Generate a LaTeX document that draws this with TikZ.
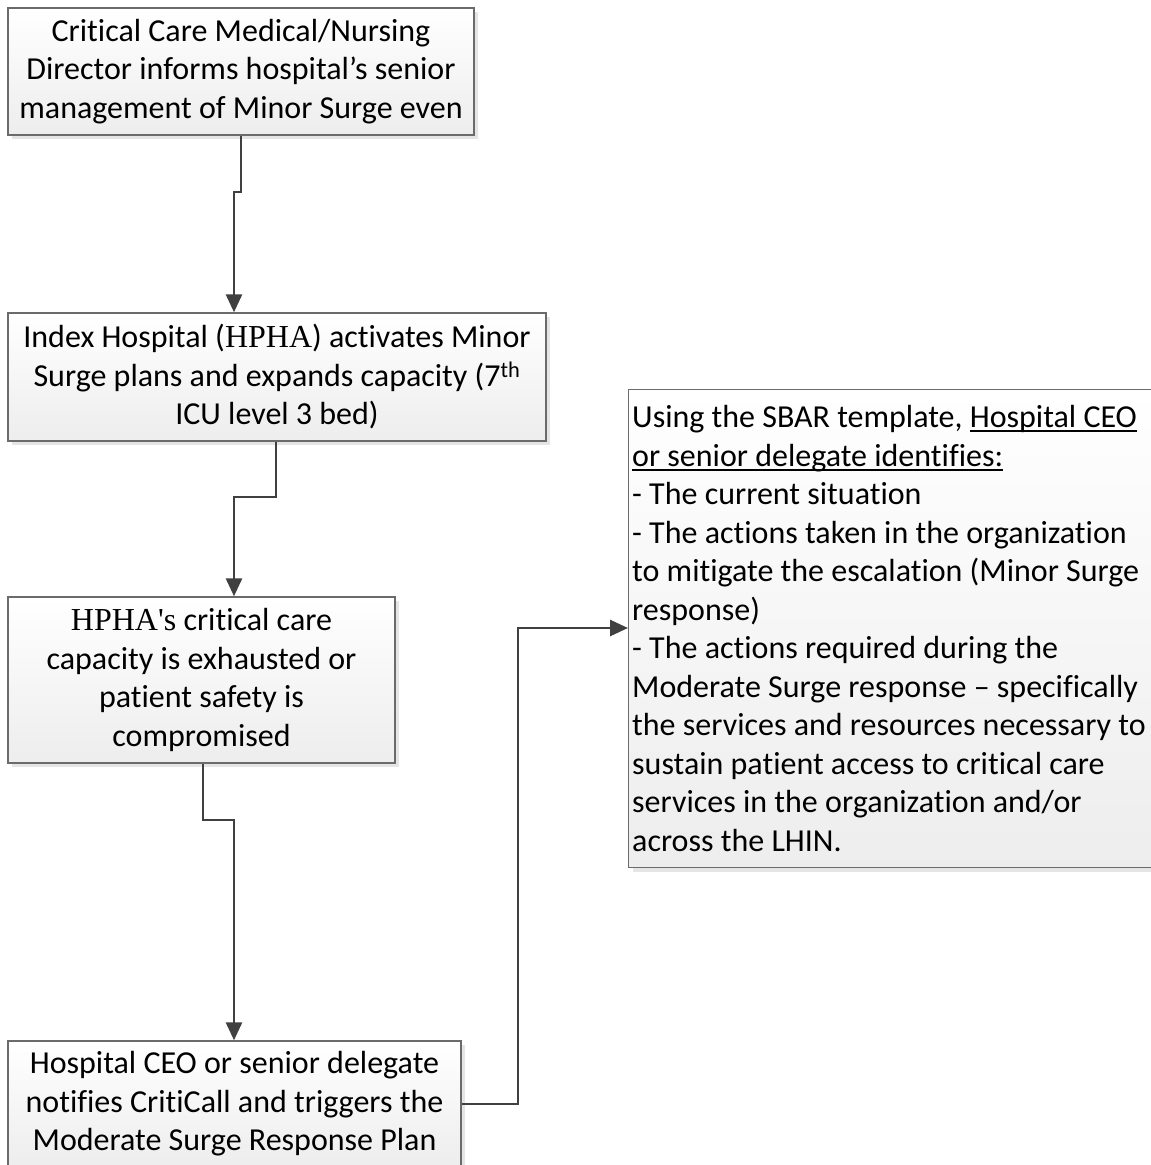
\documentclass[tikz,border=0pt]{standalone}
\usepackage{fontspec}
\setmainfont{Carlito}[Ligatures={NoCommon}]
\newfontfamily\serifhp{Liberation Serif}
\usetikzlibrary{arrows.meta,shadows}
\newcommand{\myul}[1]{\leavevmode\setbox0\hbox{#1}\rlap{\rule[-0.13em]{\wd0}{0.065em}}\box0}
\begin{document}
\begin{tikzpicture}[x=1pt,y=-1pt,
  flowbox/.style={draw=black!58, line width=1.4pt, top color=white, bottom color=black!7,
    drop shadow={shadow xshift=4pt, shadow yshift=-4pt, fill=black!10, opacity=1},
    inner sep=0pt, font=\fontsize{32}{38.5}\selectfont, align=center},
  conn/.style={draw=black!75, line width=2.8pt, -{Triangle[width=16pt,length=18pt]}},
  ]
\clip (0,0) rectangle (1151,1165);
\fill[white] (0,0) rectangle (1151,1165);
\node[flowbox, minimum width=466pt, minimum height=127pt] (b1) at (241,71.5)
  {Critical Care Medical/Nursing\\Director informs hospital’s senior\\management of Minor Surge even};
\node[flowbox, minimum width=538pt, minimum height=128pt] (b2) at (277,377)
  {Index Hospital ({\serifhp HPHA}) activates Minor\\Surge plans and expands capacity (7\textsuperscript{th}\\ICU level 3 bed)};
\node[flowbox, minimum width=387pt, minimum height=166pt] (b3) at (201.5,680)
  {{\serifhp HPHA's} critical care\\capacity is exhausted or\\patient safety is\\compromised};
\node[flowbox, minimum width=453pt, minimum height=126pt] (b4) at (234.5,1104)
  {Hospital CEO or senior delegate\\notifies CritiCall and triggers the\\Moderate Surge Response Plan};
\coordinate (b5nw) at (628,389);
\node[flowbox, minimum width=545pt, minimum height=478pt, align=flush left, text width=538pt, anchor=north west] (b5) at (b5nw)
  {Using the SBAR template, \myul{Hospital CEO}\\
   \myul{or senior delegate identifies:}\\
   - The current situation\\
   - The actions taken in the organization\\
   to mitigate the escalation (Minor Surge\\
   response)\\
   - The actions required during the\\
   Moderate Surge response – specifically\\
   the services and resources necessary to\\
   sustain patient access to critical care\\
   services in the organization and/or\\
   across the LHIN.};
\coordinate (j1a) at (241,192);
\coordinate (j1b) at (234,192);
\draw[conn] (b1.south -| j1a) -- (j1a) -- (j1b) -- (j1b |- b2.north);
\coordinate (j2a) at (276,497);
\coordinate (j2b) at (234,497);
\draw[conn] (b2.south -| j2a) -- (j2a) -- (j2b) -- (j2b |- b3.north);
\coordinate (j3a) at (203,820);
\coordinate (j3b) at (234,820);
\draw[conn] (b3.south -| j3a) -- (j3a) -- (j3b) -- (j3b |- b4.north);
\coordinate (j4a) at (518,1104);
\coordinate (j4b) at (518,628);
\draw[conn] (b4.east) -- (j4a) -- (j4b) -- (b5.west |- j4b);
\end{tikzpicture}
\end{document}
